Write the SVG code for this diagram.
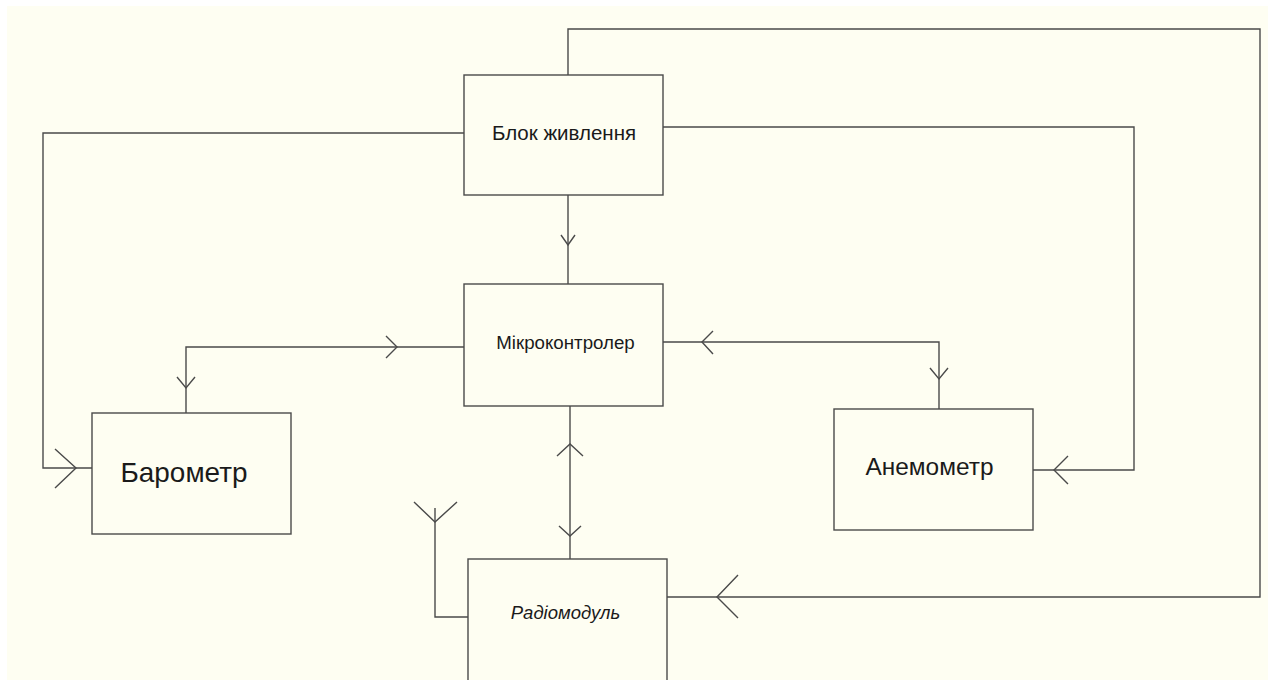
<svg xmlns="http://www.w3.org/2000/svg" width="1268" height="680" viewBox="0 0 1268 680">
<style>
.bg{fill:#ffffff}
.paper{fill:#fefef2}
.box{fill:#fefef2;stroke:#4a4a4a;stroke-width:1.4}
.wire{fill:none;stroke:#4a4a4a;stroke-width:1.4}
.lbl{font-family:"Liberation Sans",Arial,sans-serif;fill:#1a1a1a;text-anchor:middle}
</style>
<rect class="bg" x="0" y="0" width="1268" height="680"/>
<rect class="paper" x="7" y="6" width="1261" height="674"/>
<g id="connectors">
<!-- power to microcontroller -->
<path class="wire" d="M568,195 V284"/>
<path class="wire" d="M561,235 L568,245 L575,235"/>
<!-- power to barometer -->
<path class="wire" d="M464,133 H43 V468 H92"/>
<path class="wire" d="M55,449 L76,468 L55,488"/>
<!-- power to anemometer -->
<path class="wire" d="M663,127 H1134 V470 H1033"/>
<path class="wire" d="M1068,456 L1054,470 L1068,484"/>
<!-- power to radiomodule -->
<path class="wire" d="M568,75 V29 H1260 V597 H667"/>
<path class="wire" d="M738,575 L717,597 L738,618"/>
<!-- microcontroller - barometer -->
<path class="wire" d="M464,347 H186 V413"/>
<path class="wire" d="M386,336 L397,347 L386,358"/>
<path class="wire" d="M177,377 L186,388 L195,377"/>
<!-- microcontroller - anemometer -->
<path class="wire" d="M663,342 H939 V409"/>
<path class="wire" d="M713,331 L702,342 L713,354"/>
<path class="wire" d="M930,368 L939,379 L948,368"/>
<!-- microcontroller - radiomodule -->
<path class="wire" d="M570,406 V559"/>
<path class="wire" d="M557,456 L570,444 L583,456"/>
<path class="wire" d="M559,526 L570,536 L581,526"/>
<!-- antenna -->
<path class="wire" d="M468,617 H435 V508"/>
<path class="wire" d="M414,502 L435,522 L457,502"/>
</g>
<g id="power">
<rect class="box" x="464" y="75" width="199" height="120"/>
<text class="lbl" x="564" y="139.5" font-size="20.5">Блок живлення</text>
</g>
<g id="mcu">
<rect class="box" x="464" y="284" width="199" height="122"/>
<text class="lbl" x="565.5" y="348.5" font-size="18.7">Мікроконтролер</text>
</g>
<g id="barometer">
<rect class="box" x="92" y="413" width="199" height="121"/>
<text class="lbl" x="184" y="481.5" font-size="27.9">Барометр</text>
</g>
<g id="anemometer">
<rect class="box" x="834" y="409" width="199" height="121"/>
<text class="lbl" x="929.5" y="475" font-size="24.4">Анемометр</text>
</g>
<g id="radio">
<rect class="box" x="468" y="559" width="199" height="125"/>
<text class="lbl" x="565.5" y="619" font-size="18.5" font-style="italic">Радіомодуль</text>
</g>
</svg>
